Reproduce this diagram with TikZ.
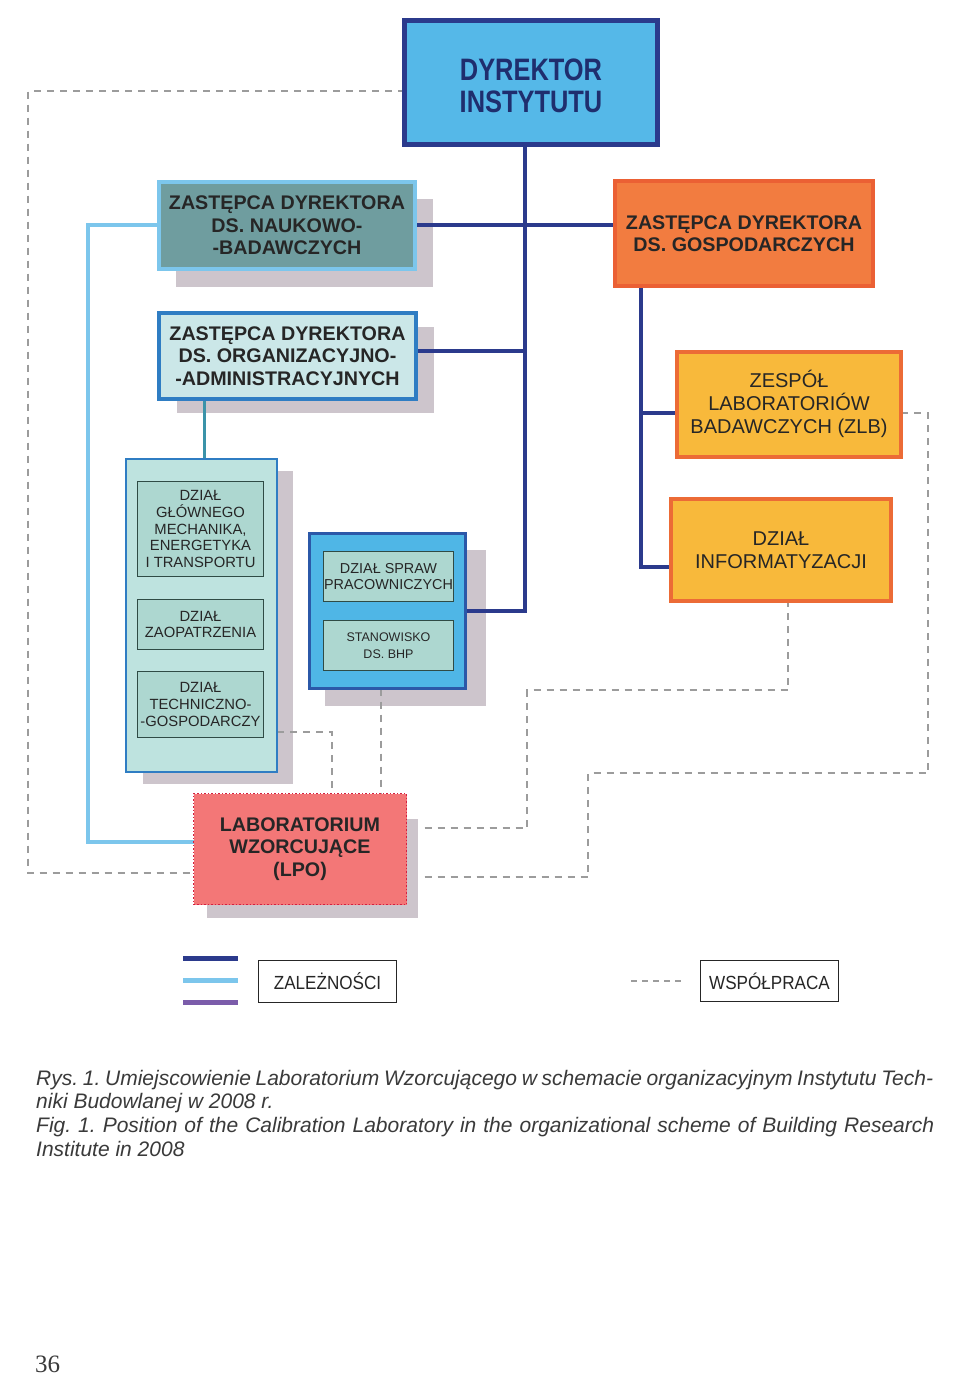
\documentclass[tikz,border=0pt]{standalone}
\usepackage{fontspec}
\setmainfont{Liberation Sans}
\newfontfamily\dyrfont[FakeStretch=0.82]{Liberation Sans}
\newfontfamily\legfont[FakeStretch=0.9]{Liberation Sans}
\newfontfamily\pagefont{Liberation Serif}
\usetikzlibrary{calc}
\frenchspacing
\definecolor{navyc}{HTML}{2B3A8C}
\definecolor{lbluec}{HTML}{7CC6EC}
\definecolor{tealc}{HTML}{3B93A9}
\definecolor{purplec}{HTML}{7B5CAA}
\definecolor{shadowc}{HTML}{CDC5CC}
\definecolor{dyrfill}{HTML}{55B8E8}
\definecolor{naukfill}{HTML}{6F9D9F}
\definecolor{orgfill}{HTML}{CBE7E8}
\definecolor{orgborder}{HTML}{2F7DC3}
\definecolor{colfill}{HTML}{BEE3DF}
\definecolor{innerfill}{HTML}{ADD7D0}
\definecolor{innerborder}{HTML}{2F4B45}
\definecolor{midfill}{HTML}{4FB6E6}
\definecolor{midborder}{HTML}{2B58A8}
\definecolor{gospfill}{HTML}{F27C40}
\definecolor{gospborder}{HTML}{EB6034}
\definecolor{zlbfill}{HTML}{F8B93B}
\definecolor{zlbborder}{HTML}{EC6B36}
\definecolor{lpofill}{HTML}{F37777}
\definecolor{lpoborder}{HTML}{D42040}
\definecolor{dashc}{HTML}{9C9C9C}
\definecolor{txt}{HTML}{262626}
\definecolor{dyrtxt}{HTML}{1F2E6E}
\definecolor{captxt}{HTML}{3A3A3A}
\pgfdeclarelayer{shadowlayer}
\pgfdeclarelayer{linelayer}
\pgfsetlayers{shadowlayer,linelayer,main}
\tikzset{
  box/.style={rectangle, inner sep=0pt, outer sep=0pt, align=center, text=txt},
  boldtxt/.style={font=\fontsize{19.7}{22.4}\selectfont\bfseries},
  regtxt/.style={font=\fontsize{20}{23}\selectfont},
  smalltxt/.style={font=\fontsize{14.8}{16.9}\selectfont},
  inner/.style={box, draw=innerborder, line width=1.5pt, fill=innerfill},
  dep/.style={draw=navyc, line width=4.5pt},
  coop/.style={draw=dashc, line width=1.4pt, dash pattern=on 7pt off 6pt},
  shade/.style={fill=shadowc},
  captxtstyle/.style={anchor=base west, inner sep=0pt, text=captxt,
     font=\fontsize{21}{23.7}\selectfont\itshape}
}
\begin{document}
\begin{tikzpicture}[x=1pt,y=-1pt]
\useasboundingbox (0,0) rectangle (960,1381);

% ---------- boxes ----------
\node[box, draw=navyc, line width=5pt, fill=dyrfill, minimum width=253pt, minimum height=124pt] (dyr) at (531,82.5) {};
\node[box, text=dyrtxt, font=\dyrfont\fontsize{31}{32.5}\selectfont\bfseries] (dyrt) at (531,86) {DYREKTOR\\INSTYTUTU};
\node[box, boldtxt, draw=lbluec, line width=4pt, fill=naukfill, minimum width=256pt, minimum height=87pt]
      (nauk) at (287,225.5) {ZASTĘPCA DYREKTORA\\DS. NAUKOWO-\\-BADAWCZYCH};
\node[box, boldtxt, draw=gospborder, line width=4pt, fill=gospfill, minimum width=258pt, minimum height=105pt]
      (gosp) at (744,233.5) {ZASTĘPCA DYREKTORA\\DS. GOSPODARCZYCH};
\node[box, boldtxt, draw=orgborder, line width=4pt, fill=orgfill, minimum width=257pt, minimum height=86pt]
      (org) at (287.5,356) {ZASTĘPCA DYREKTORA\\DS. ORGANIZACYJNO-\\-ADMINISTRACYJNYCH};
\node[box, regtxt, draw=zlbborder, line width=4pt, fill=zlbfill, minimum width=224pt, minimum height=105pt]
      (zlb) at (789,404) {ZESPÓŁ\\LABORATORIÓW\\BADAWCZYCH (ZLB)};
\node[box, regtxt, draw=zlbborder, line width=4pt, fill=zlbfill, minimum width=220pt, minimum height=102pt]
      (inf) at (781,550) {DZIAŁ\\INFORMATYZACJI};
\node[box, draw=orgborder, line width=2pt, fill=colfill, minimum width=151pt, minimum height=313pt]
      (col) at (201.5,615.5) {};
\node[inner, smalltxt, minimum width=126pt, minimum height=95pt]
      (g1) at (200.5,529) {DZIAŁ\\GŁÓWNEGO\\MECHANIKA,\\ENERGETYKA\\I TRANSPORTU};
\node[inner, smalltxt, minimum width=126pt, minimum height=50pt]
      (g2) at (200.5,624.5) {DZIAŁ\\ZAOPATRZENIA};
\node[inner, smalltxt, minimum width=126pt, minimum height=66pt]
      (g3) at (200.5,704.5) {DZIAŁ\\TECHNICZNO-\\-GOSPODARCZY};
\node[box, draw=midborder, line width=3pt, fill=midfill, minimum width=156pt, minimum height=155pt]
      (mid) at (387.5,611) {};
\node[inner, font=\fontsize{14.4}{16.5}\selectfont, minimum width=130pt, minimum height=50pt]
      (m1) at (388.5,576.5) {DZIAŁ SPRAW\\PRACOWNICZYCH};
\node[inner, font=\fontsize{12.5}{17}\selectfont, minimum width=130pt, minimum height=50pt]
      (m2) at (388.5,645.5) {STANOWISKO\\DS. BHP};
\node[box, boldtxt, draw=lpoborder, dotted, line width=1.5pt, fill=lpofill, minimum width=213pt, minimum height=111pt]
      (lpo) at (300,849) {LABORATORIUM\\WZORCUJĄCE\\(LPO)};

% ---------- helper coordinates ----------
\coordinate (tx) at (525,0);
\coordinate (gx) at (641,0);
\coordinate (lbx) at (88,0);
\coordinate (tealx) at (204,0);
\coordinate (x332) at (332,0);
\coordinate (x381) at (381,0);
\coordinate (x788) at (788,0);
\coordinate (y91) at (0,91);
\coordinate (y225) at (0,225);
\coordinate (y351) at (0,351);
\coordinate (y413) at (0,413);
\coordinate (y567) at (0,567);
\coordinate (y732) at (0,732);
\coordinate (y828) at (0,828);
\coordinate (y842) at (0,842);
\coordinate (y873) at (0,873);
\coordinate (y877) at (0,877);
\coordinate (c1) at (28,873);
\coordinate (c2) at (527,690);
\coordinate (c3) at (588,773);
\coordinate (c4) at (928,413);

% ---------- background and shadows ----------
\begin{pgfonlayer}{shadowlayer}
\fill[white] (0,0) rectangle (960,1381);
\fill[shade] (176,199) rectangle (433,287);
\fill[shade] (177,327) rectangle (434,413);
\fill[shade] (143,471) rectangle (293,784);
\fill[shade] (325,550) rectangle (486,706);
\fill[shade] (207,819) rectangle (418,918);
\end{pgfonlayer}

% ---------- connectors ----------
\begin{pgfonlayer}{linelayer}
\draw[dep] (dyr.south -| tx) |- (mid.east);
\draw[dep] (nauk.east |- y225) -- (gosp.west |- y225);
\draw[dep] (org.east |- y351) -- (tx |- y351);
\draw[dep] (gosp.south -| gx) |- (inf.west |- y567);
\draw[dep] (gx |- y413) -- (zlb.west |- y413);
\draw[draw=tealc, line width=3pt] (org.south -| tealx) -- (col.north -| tealx);
\draw[draw=lbluec, line width=4pt] (nauk.west |- y225) -- (lbx |- y225) -- (lbx |- y842) -- (lpo.west |- y842);

\draw[coop] (dyr.west |- y91) -| (c1) -- (lpo.west |- y873);
\draw[coop] (col.east |- y732) -| (lpo.north -| x332);
\draw[coop] (mid.south -| x381) -- (lpo.north -| x381);
\draw[coop, shorten <=18pt] (lpo.east |- y828) -| (c2) -| (inf.south -| x788);
\draw[coop, shorten <=18pt] (lpo.east |- y877) -| (c3) -| (c4) -- (zlb.east |- y413);
\end{pgfonlayer}

% ---------- legend ----------
\draw[navyc, line width=5pt] (183,958) -- (238,958);
\draw[lbluec, line width=5pt] (183,980) -- (238,980);
\draw[purplec, line width=5pt] (183,1002) -- (238,1002);
\node[box, draw=txt, line width=1pt, fill=white, minimum width=138pt, minimum height=42pt,
      font=\legfont\fontsize{19}{21}\selectfont] (leg1) at (327.5,981.5) {ZALEŻNOŚCI};
\draw[coop, line width=1.2pt, dash pattern=on 6pt off 5pt] (631,981) -- (683,981);
\node[box, draw=txt, line width=1pt, fill=white, minimum width=138pt, minimum height=41pt,
      font=\legfont\fontsize{19}{21}\selectfont] (leg2) at (769.5,981) {WSPÓŁPRACA};

% ---------- caption ----------
\node[captxtstyle] (cap1) at (36,1085) {\hbox to 897pt{Rys. 1. Umiejscowienie Laboratorium Wzorcującego w schemacie organizacyjnym Instytutu Tech-}};
\node[captxtstyle] (cap2) at (36,1108.7) {niki Budowlanej w 2008 r.};
\node[captxtstyle] (cap3) at (36,1132.4) {\hbox to 898pt{Fig. 1. Position of the Calibration Laboratory in the organizational scheme of Building Research}};
\node[captxtstyle] (cap4) at (36,1156.1) {Institute in 2008};

\node[anchor=base west, inner sep=0pt, text=captxt, font=\pagefont\fontsize{25}{28}\selectfont] (pg) at (35,1372) {36};
\end{tikzpicture}
\end{document}
